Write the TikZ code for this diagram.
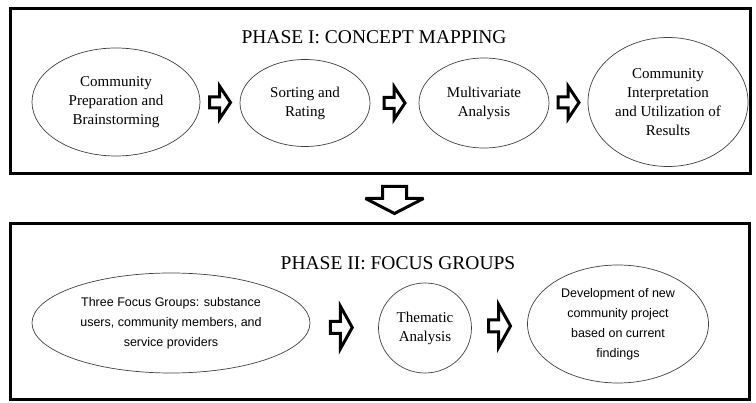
\documentclass[tikz,border=0pt]{standalone}
\usepackage{fontspec}
\setmainfont{Liberation Serif}
\newfontfamily\groupfont{Liberation Sans}
\usetikzlibrary{calc}
\usetikzlibrary{shapes.geometric}
\tikzset{
	phasebox/.style={draw,line width=3pt},
	phasetitle/.style={font=\fontsize{19.5}{22}\selectfont},
	bubble/.style={draw=black!75,line width=0.7pt,ellipse,inner sep=0pt,align=center,font=\fontsize{15}{19}\selectfont},
	groupbubble/.style={bubble,font=\groupfont\fontsize{12.5}{20}\selectfont},
	% #1 tail/tip, #2 shaft half width, #3 head base, #4 head half width
	pics/blockarrow/.style n args={4}{code={
		\draw[line width=3pt,miter limit=4] (-#1,-#2) -- (#3,-#2) -- (#3,-#4) -- (#1,0) -- (#3,#4) -- (#3,#2) -- (-#1,#2) -- cycle;
	}}
}

\begin{document}
\begin{tikzpicture}[x=1pt,y=-1pt]
			\useasboundingbox (0,0) rectangle (756,403);
			% phase I
			\draw[phasebox] (10,9) rectangle (750,174);
			\node[phasetitle] (t1) at (374,37) {PHASE I: CONCEPT MAPPING};
			\node[bubble,minimum width=168pt,minimum height=108pt] (prep) at (116,102) {Community\\Preparation and\\Brainstorming};
			\node[bubble,minimum width=130pt,minimum height=87pt] (sort) at (305,103) {Sorting and\\Rating};
			\node[bubble,minimum width=130pt,minimum height=90pt] (multi) at (484,103) {Multivariate\\Analysis};
			\node[bubble,minimum width=160pt,minimum height=129pt] (interp) at (668,102) {Community\\Interpretation\\and Utilization of\\Results};
			\pic (a1) at ($(prep.east)!0.5!(sort.west)$) {blockarrow={10.5}{5.5}{-0.5}{16.5}};
			\pic (a2) at ($(sort.east)!0.5!(multi.west)$) {blockarrow={10.5}{5.5}{-0.5}{16.5}};
			\pic (a3) at ($(multi.east)!0.5!(interp.west)$) {blockarrow={10.5}{5.5}{-0.5}{16.5}};
			
			% between phases
			\coordinate (gap) at (394.5,200);
			\pic[rotate=-90] (down) at (gap) {blockarrow={13.5}{12}{-1.5}{29}};
			
			% phase II
			\draw[phasebox] (10,224) rectangle (749,400);
			\node[phasetitle] (t2) at (398,263) {PHASE II: FOCUS GROUPS};
			\node[groupbubble,minimum width=278pt,minimum height=100pt] (groups) at (171,323) {Three Focus Groups: substance\\users, community members, and\\service providers};
			\node[bubble,minimum width=93pt,minimum height=90pt] (theme) at (425,328) {Thematic\\Analysis};
			\node[groupbubble,minimum width=181pt,minimum height=118pt] (project) at (618,324) {Development of new\\community project\\based on current\\findings};
			\pic (a4) at ($(groups.east)!0.5!(theme.west)+(-3,2)$) {blockarrow={11}{6}{-1}{21.5}};
			\pic (a5) at ($(theme.east)!0.5!(project.west)$) {blockarrow={11}{6}{-1}{21.5}};
\end{tikzpicture}
\end{document}
